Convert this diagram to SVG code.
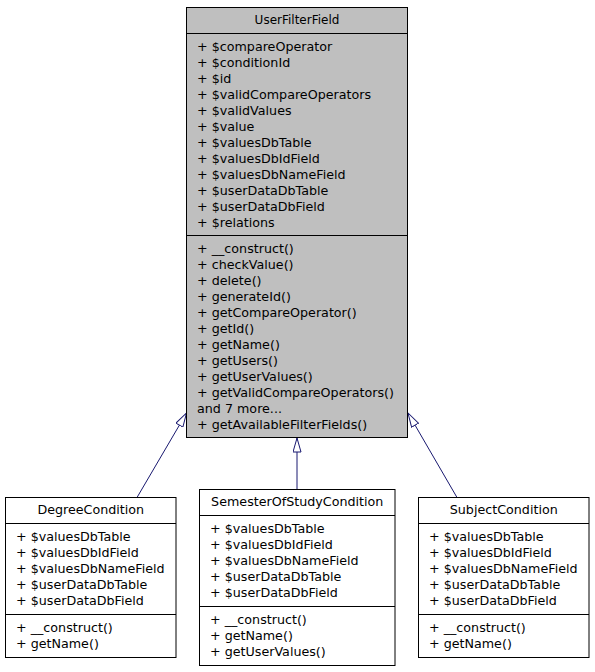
<svg xmlns="http://www.w3.org/2000/svg" width="595" height="672" viewBox="0 0 595 672">
<style>
text { font-family: "DejaVu Sans", "Liberation Sans", sans-serif; font-size: 12.7px; fill: #000; }
.t { text-anchor: middle; }
.t0 { text-anchor: middle; font-size: 12px; }
.box { stroke: #000; stroke-width: 1; }
.base { fill: #bfbfbf; }
.sub { fill: #fff; }
.sep { stroke: #000; stroke-width: 1; }
.edge { stroke: #191970; stroke-width: 1; fill: none; marker-end: url(#inh); }
</style>
<defs>
<marker id="inh" viewBox="0 0 15 9" refX="14.5" refY="4.5" markerWidth="15" markerHeight="9" markerUnits="userSpaceOnUse" orient="auto">
<path d="M0.5,0.5 L14.5,4.5 L0.5,8.5 z" fill="#fff" stroke="#191970" stroke-width="1"/>
</marker>
</defs>
<g id="connectors">
<path class="edge" d="M137,497.5 L186.5,413"/>
<path class="edge" d="M297,489.5 L297,438"/>
<path class="edge" d="M457,497.5 L408,413"/>
</g>
<g id="UserFilterField">
<rect class="box base" x="186.5" y="7.5" width="221" height="430"/>
<line class="sep" x1="186.5" y1="33.5" x2="407.5" y2="33.5"/>
<line class="sep" x1="186.5" y1="235.5" x2="407.5" y2="235.5"/>
<text class="t0" x="297" y="24">UserFilterField</text>
<text x="197" y="51">+ $compareOperator</text>
<text x="197" y="67">+ $conditionId</text>
<text x="197" y="83">+ $id</text>
<text x="197" y="99">+ $validCompareOperators</text>
<text x="197" y="115">+ $validValues</text>
<text x="197" y="131">+ $value</text>
<text x="197" y="147">+ $valuesDbTable</text>
<text x="197" y="163">+ $valuesDbIdField</text>
<text x="197" y="179">+ $valuesDbNameField</text>
<text x="197" y="195">+ $userDataDbTable</text>
<text x="197" y="211">+ $userDataDbField</text>
<text x="197" y="227">+ $relations</text>
<text x="197" y="253">+ __construct()</text>
<text x="197" y="269">+ checkValue()</text>
<text x="197" y="285">+ delete()</text>
<text x="197" y="301">+ generateId()</text>
<text x="197" y="317">+ getCompareOperator()</text>
<text x="197" y="333">+ getId()</text>
<text x="197" y="349">+ getName()</text>
<text x="197" y="365">+ getUsers()</text>
<text x="197" y="381">+ getUserValues()</text>
<text x="197" y="397">+ getValidCompareOperators()</text>
<text x="197" y="413">and 7 more...</text>
<text x="197" y="429">+ getAvailableFilterFields()</text>
</g>
<g id="DegreeCondition">
<rect class="box sub" x="5.5" y="497.5" width="170.5" height="160"/>
<line class="sep" x1="5.5" y1="523.5" x2="176" y2="523.5"/>
<line class="sep" x1="5.5" y1="614.5" x2="176" y2="614.5"/>
<text class="t" x="90.75" y="514">DegreeCondition</text>
<text x="16" y="541">+ $valuesDbTable</text>
<text x="16" y="557">+ $valuesDbIdField</text>
<text x="16" y="573">+ $valuesDbNameField</text>
<text x="16" y="589">+ $userDataDbTable</text>
<text x="16" y="605">+ $userDataDbField</text>
<text x="16" y="632">+ __construct()</text>
<text x="16" y="648">+ getName()</text>
</g>
<g id="SemesterOfStudyCondition">
<rect class="box sub" x="199.5" y="489.5" width="195.5" height="176"/>
<line class="sep" x1="199.5" y1="515.5" x2="395" y2="515.5"/>
<line class="sep" x1="199.5" y1="606.5" x2="395" y2="606.5"/>
<text class="t" x="297.25" y="506">SemesterOfStudyCondition</text>
<text x="210" y="533">+ $valuesDbTable</text>
<text x="210" y="549">+ $valuesDbIdField</text>
<text x="210" y="565">+ $valuesDbNameField</text>
<text x="210" y="581">+ $userDataDbTable</text>
<text x="210" y="597">+ $userDataDbField</text>
<text x="210" y="624">+ __construct()</text>
<text x="210" y="640">+ getName()</text>
<text x="210" y="656">+ getUserValues()</text>
</g>
<g id="SubjectCondition">
<rect class="box sub" x="418.5" y="497.5" width="170.5" height="160"/>
<line class="sep" x1="418.5" y1="523.5" x2="589" y2="523.5"/>
<line class="sep" x1="418.5" y1="614.5" x2="589" y2="614.5"/>
<text class="t" x="503.75" y="514">SubjectCondition</text>
<text x="429" y="541">+ $valuesDbTable</text>
<text x="429" y="557">+ $valuesDbIdField</text>
<text x="429" y="573">+ $valuesDbNameField</text>
<text x="429" y="589">+ $userDataDbTable</text>
<text x="429" y="605">+ $userDataDbField</text>
<text x="429" y="632">+ __construct()</text>
<text x="429" y="648">+ getName()</text>
</g>
</svg>
